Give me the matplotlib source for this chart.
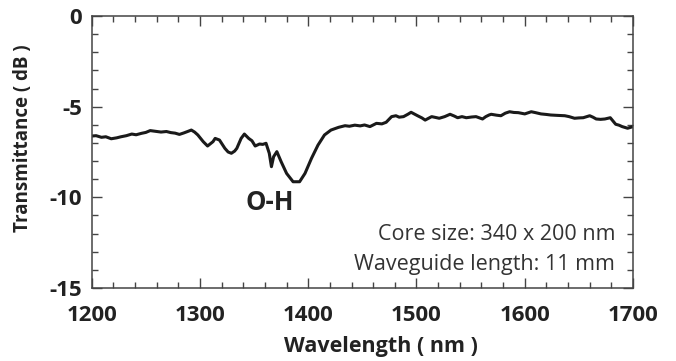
import matplotlib
matplotlib.use("Agg")
import matplotlib.pyplot as plt
from matplotlib.ticker import MultipleLocator

wavelength = [1200, 1204, 1209, 1213, 1218, 1223, 1227, 1232, 1237, 1241, 1246, 1250, 1254,
              1259, 1264, 1269, 1273, 1277, 1281, 1285, 1289, 1292, 1295, 1298, 1303, 1307,
              1312, 1314, 1318, 1323, 1326, 1329, 1332, 1334, 1338, 1341, 1345, 1348, 1351,
              1355, 1358, 1361, 1364, 1366, 1368, 1371, 1375, 1380, 1386, 1392, 1397, 1403,
              1409, 1415, 1421, 1428, 1434, 1438, 1443, 1448, 1452, 1457, 1463, 1468, 1472,
              1477, 1481, 1484, 1488, 1492, 1495, 1501, 1505, 1508, 1514, 1518, 1521, 1526,
              1531, 1535, 1538, 1542, 1546, 1551, 1555, 1561, 1564, 1567, 1569, 1574, 1578,
              1582, 1586, 1590, 1594, 1600, 1606, 1610, 1615, 1620, 1624, 1630, 1637, 1641,
              1646, 1650, 1654, 1660, 1663, 1666, 1670, 1674, 1679, 1684, 1687, 1690, 1695,
              1700]
transmittance = [-6.62, -6.60, -6.69, -6.66, -6.77, -6.72, -6.66, -6.60, -6.51, -6.55, -6.47,
                 -6.42, -6.32, -6.36, -6.40, -6.37, -6.43, -6.46, -6.53, -6.45, -6.36, -6.29,
                 -6.40, -6.56, -6.93, -7.17, -6.93, -6.75, -6.84, -7.30, -7.50, -7.57, -7.45,
                 -7.30, -6.75, -6.51, -6.75, -6.88, -7.17, -7.06, -7.08, -7.02, -7.57, -8.31,
                 -7.76, -7.48, -8.04, -8.68, -9.14, -9.14, -8.68, -7.85, -7.12, -6.56, -6.29,
                 -6.14, -6.05, -6.08, -6.02, -6.06, -6.01, -6.10, -5.92, -5.95, -5.86, -5.55,
                 -5.50, -5.58, -5.55, -5.42, -5.31, -5.50, -5.62, -5.74, -5.55, -5.60, -5.64,
                 -5.55, -5.42, -5.52, -5.61, -5.55, -5.61, -5.57, -5.55, -5.68, -5.55, -5.46,
                 -5.42, -5.47, -5.50, -5.36, -5.28, -5.32, -5.33, -5.40, -5.28, -5.33, -5.40,
                 -5.43, -5.46, -5.48, -5.50, -5.55, -5.64, -5.62, -5.61, -5.50, -5.58, -5.68,
                 -5.70, -5.68, -5.61, -5.97, -6.02, -6.10, -6.19, -6.10]

x_ticks = [1200, 1300, 1400, 1500, 1600, 1700]
y_ticks = [0, -5, -10, -15]

plt.rcParams['font.family'] = ['Open Sans', 'DejaVu Sans']
plt.rcParams['axes.unicode_minus'] = False

fig = plt.figure(figsize=(6.76, 3.61), dpi=100)
ax = fig.add_axes([0.1357, 0.2022, 0.8007, 0.7535])

ax.plot(wavelength, transmittance, color='#1a1a1a', lw=2.2)

ax.set_xlim(1200, 1700)
ax.set_ylim(-15, 0)
ax.set_xticks(x_ticks)
ax.set_yticks(y_ticks)
ax.xaxis.set_minor_locator(MultipleLocator(20))
ax.yaxis.set_minor_locator(MultipleLocator(1))
ax.tick_params(which='both', direction='in', top=True, right=True, color='#444444', width=1)
ax.tick_params(which='major', length=7)
ax.tick_params(which='minor', length=4)
ax.tick_params(axis='x', which='major', pad=12)
ax.tick_params(axis='y', which='major', pad=7)
for lab in ax.get_xticklabels() + ax.get_yticklabels():
    lab.set_fontsize(16)
    lab.set_fontweight('bold')
    lab.set_color('#222222')
for s in ax.spines.values():
    s.set_color('#444444')
    s.set_linewidth(1.1)

ax.set_xlabel('Wavelength ( nm )', fontsize=15.5, fontweight='bold', color='#222222')
ax.xaxis.set_label_coords(0.5335, -0.175)
ax.set_ylabel('Transmittance ( dB )', fontsize=13.5, fontweight='bold', color='#222222')
ax.yaxis.set_label_coords(-0.108, 0.55)

ax.text(1364.5, -10.7, 'O-H', fontsize=18.5, fontweight='bold', color='#222222', ha='center', va='baseline')
ax.text(1683.7, -12.36, 'Core size: 340 x 200 nm', fontsize=15.5, color='#333333', ha='right', va='baseline')
ax.text(1683.7, -14.0, 'Waveguide length: 11 mm', fontsize=15.5, color='#333333', ha='right', va='baseline')

fig.savefig('out.png', dpi=100)
